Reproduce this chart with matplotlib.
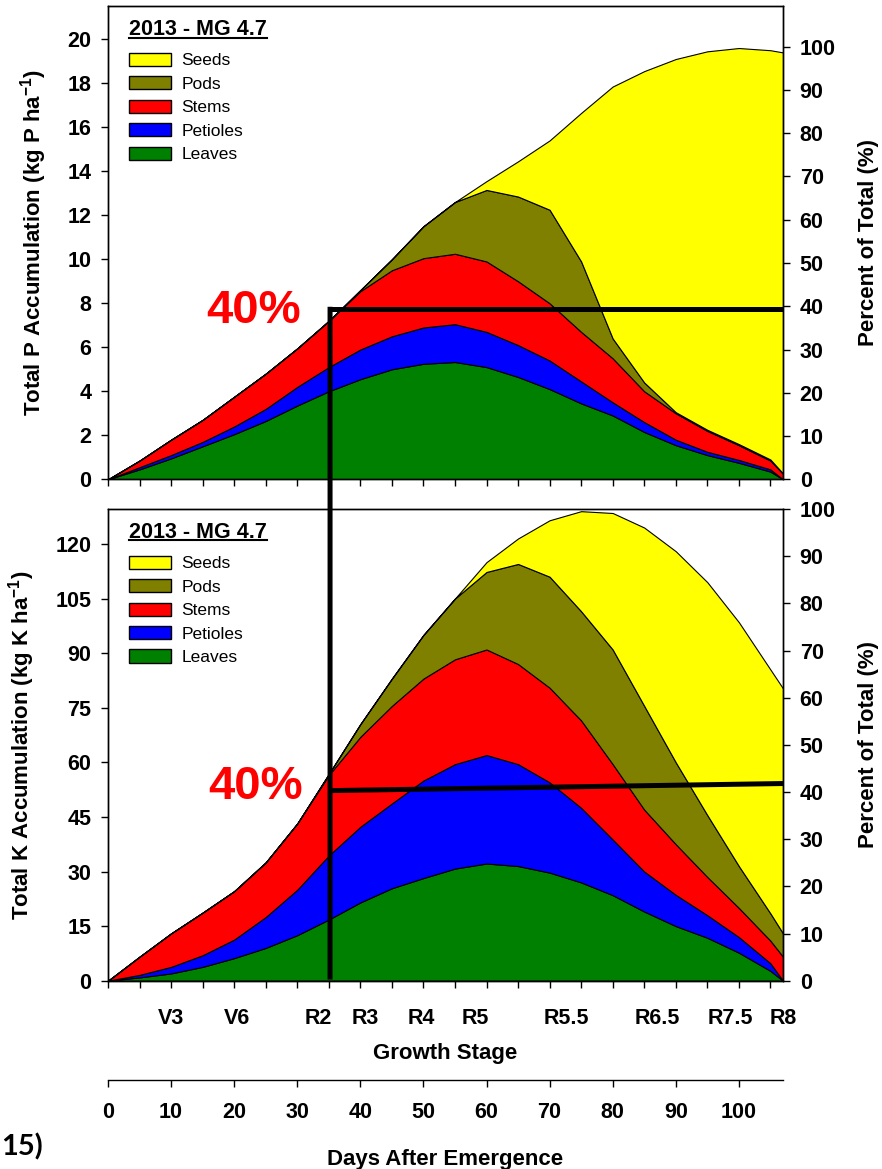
import matplotlib
matplotlib.use("Agg")
import matplotlib.pyplot as plt
from matplotlib.patches import Patch, ConnectionPatch
from matplotlib.ticker import MultipleLocator

plt.rcParams.update({
    "font.family": ["Liberation Sans", "DejaVu Sans"],
    "font.weight": "bold",
    "axes.labelweight": "bold",
    "mathtext.fontset": "custom",
    "mathtext.rm": "Liberation Sans",
    "mathtext.default": "regular",
    "axes.linewidth": 1.0,
})

# days after emergence at which the partition curves were sampled
days = [0, 5, 10, 15, 20, 25, 30, 35, 40, 45, 50, 55, 60, 65, 70, 75, 80, 85, 90, 95, 100, 105, 107]

# P accumulation by plant part (kg P/ha)
p_leaves = [0, 0.45, 0.95, 1.50, 2.05, 2.65, 3.35, 4.00, 4.55, 5.00, 5.25, 5.33, 5.10, 4.65, 4.10, 3.45, 2.90, 2.15, 1.55, 1.10, 0.75, 0.35, 0]
p_petioles = [0, 0.10, 0.15, 0.20, 0.35, 0.55, 0.85, 1.10, 1.35, 1.50, 1.65, 1.72, 1.60, 1.45, 1.30, 1.00, 0.60, 0.45, 0.25, 0.15, 0.13, 0.10, 0]
p_stems = [0, 0.30, 0.70, 1.00, 1.35, 1.60, 1.75, 2.10, 2.65, 3.00, 3.15, 3.20, 3.20, 2.90, 2.60, 2.25, 2.00, 1.40, 1.20, 0.95, 0.67, 0.40, 0.25]
p_pods = [0, 0, 0, 0, 0, 0, 0, 0, 0.05, 0.50, 1.45, 2.35, 3.25, 3.85, 4.25, 3.20, 0.90, 0.40, 0.05, 0.05, 0.05, 0.05, 0.02]
p_seeds = [0, 0, 0, 0, 0, 0, 0, 0, 0, 0, 0, 0, 0.40, 1.60, 3.15, 6.75, 11.45, 14.15, 16.05, 17.20, 18.00, 18.60, 19.13]

# K accumulation by plant part (kg K/ha)
k_leaves = [0, 0.9, 2.0, 3.8, 6.2, 9.0, 12.5, 16.8, 21.5, 25.4, 28.2, 30.8, 32.2, 31.5, 29.7, 27.0, 23.5, 19.0, 15.0, 11.8, 7.7, 2.7, 0]
k_petioles = [0, 0.7, 1.8, 3.2, 5.1, 8.5, 12.5, 17.6, 20.8, 23.3, 26.8, 28.7, 29.8, 28.0, 24.8, 20.5, 15.3, 11.0, 8.6, 6.2, 4.3, 2.1, 0]
k_stems = [0, 5.0, 9.2, 11.7, 13.3, 15.0, 18.2, 22.1, 24.7, 26.8, 28.0, 28.8, 29.0, 27.5, 26.0, 24.0, 20.7, 17.0, 13.9, 10.5, 8.0, 6.2, 6.6]
k_pods = [0, 0, 0, 0, 0, 0, 0, 0.3, 3.5, 7.5, 12.0, 16.7, 21.3, 27.5, 30.5, 30.0, 31.5, 28.5, 22.5, 17.0, 11.5, 7.5, 6.4]
k_seeds = [0, 0, 0, 0, 0, 0, 0, 0, 0, 0, 0, 0, 2.7, 7.0, 15.5, 27.5, 37.5, 49.0, 58.0, 64.0, 67.0, 67.0, 67.3]

parts = ["Leaves", "Petioles", "Stems", "Pods", "Seeds"]
part_colors = ["#008000", "#0000ff", "#ff0000", "#808000", "#ffff00"]

stage_days = [10, 20.4, 33.3, 40.7, 49.7, 58.3, 72.7, 87.1, 98.6, 107]
stage_labels = ["V3", "V6", "R2", "R3", "R4", "R5", "R5.5", "R6.5", "R7.5", "R8"]

season = "2013 - MG 4.7"

# 40 % of season total reached at ~R2
cutoff_day = 35.2
p_cutoff_pct = [39.3, 39.3]
k_cutoff_pct = [40.3, 41.8]
cutoff_label = "40%"

W, H = 882, 1169
fig = plt.figure(figsize=(W / 100, H / 100), dpi=100, facecolor="white")


def px_box(x0, y0, x1, y1):
    return [x0 / W, 1 - y1 / H, (x1 - x0) / W, (y1 - y0) / H]


def panel(ax, series, top, step, pct_top, ylabel):
    ax.stackplot(days, *series, colors=part_colors, edgecolor="black", linewidth=0.8)
    ax.set_xlim(0, 107)
    ax.set_ylim(0, top)
    ax.yaxis.set_major_locator(MultipleLocator(step))
    ax.tick_params(axis="y", direction="out", length=5, width=1, pad=7, labelsize=15.5)
    ax.set_ylabel(ylabel, fontsize=16, labelpad=13)

    axr = ax.twinx()
    axr.set_ylim(0, pct_top)
    axr.yaxis.set_major_locator(MultipleLocator(10))
    axr.tick_params(axis="y", direction="out", length=5, width=1, pad=7, labelsize=15.5)
    axr.set_ylabel("Percent of Total (%)", fontsize=16, labelpad=16)

    handles = [Patch(facecolor=c, edgecolor="black", linewidth=1.0, label=n)
               for n, c in zip(parts, part_colors)][::-1]
    ax.legend(handles=handles, loc="upper left", bbox_to_anchor=(0.0307, 0.901),
              frameon=False, prop={"weight": "normal", "size": 12.5},
              handlelength=2.42, handleheight=0.79, handletextpad=0.63,
              labelspacing=0.45, borderpad=0, borderaxespad=0)
    title = ax.text(0.0307, 0.9387, season, transform=ax.transAxes,
                    fontsize=15.5, va="baseline")
    return axr, title


ax_p = fig.add_axes(px_box(108, 6, 783, 479.3))
ax_k = fig.add_axes(px_box(108, 509, 783, 980.7))

axr_p, title_p = panel(ax_p, [p_leaves, p_petioles, p_stems, p_pods, p_seeds],
                       21.51, 2, 109.4, "Total P Accumulation (kg P ha$^{-1}$)")
axr_k, title_k = panel(ax_k, [k_leaves, k_petioles, k_stems, k_pods, k_seeds],
                       129.6, 15, 100, "Total K Accumulation (kg K ha$^{-1}$)")

# top panel: unlabeled 5-day ticks
ax_p.xaxis.set_major_locator(MultipleLocator(5))
ax_p.tick_params(axis="x", direction="out", length=5, width=1, labelbottom=False)

# bottom panel: growth stages as labels, 5-day ticks as minors
ax_k.set_xticks(stage_days, stage_labels)
ax_k.xaxis.set_minor_locator(MultipleLocator(5))
ax_k.xaxis.remove_overlapping_locs = False
ax_k.tick_params(axis="x", which="major", length=0, pad=19.4, labelsize=15.5)
ax_k.tick_params(axis="x", which="minor", direction="out", length=5, width=1)
ax_k.set_xlabel("Growth Stage", fontsize=16, labelpad=10.5)

# separate days axis below the growth stages
ax_d = ax_k.twiny()
ax_d.set_xlim(0, 107)
ax_d.xaxis.set_ticks_position("bottom")
ax_d.xaxis.set_label_position("bottom")
ax_d.spines["bottom"].set_position(("outward", 71.5))
for s in ("top", "left", "right"):
    ax_d.spines[s].set_visible(False)
ax_d.xaxis.set_major_locator(MultipleLocator(10))
ax_d.tick_params(axis="x", direction="out", length=5, width=1, pad=10.8, labelsize=15.5)
ax_d.set_xlabel("Days After Emergence", fontsize=16, labelpad=19)

# 40 % markers
axr_p.plot([cutoff_day, 107], p_cutoff_pct, color="black", lw=3.6, solid_capstyle="butt")
axr_k.plot([cutoff_day, 107], k_cutoff_pct, color="black", lw=3.6, solid_capstyle="butt")
con = ConnectionPatch(xyA=(cutoff_day, p_cutoff_pct[0]), coordsA=axr_p.transData,
                      xyB=(cutoff_day, 1.0), coordsB=ax_k.transData,
                      color="black", linewidth=3.6, capstyle="projecting")
fig.add_artist(con)
ax_p.text(23.1, 7.09, cutoff_label, color="#ff0000", fontsize=34, ha="center", va="baseline")
ax_k.text(23.4, 49.8, cutoff_label, color="#ff0000", fontsize=34, ha="center", va="baseline")

fig.text(0.001, 1 - 1147 / H, "15)", fontsize=21, family="Lato", weight="bold", va="center")

# underline the season titles
fig.canvas.draw()
r = fig.canvas.get_renderer()
for ax, t in ((ax_p, title_p), (ax_k, title_k)):
    bb = t.get_window_extent(r)
    inv = ax.transAxes.inverted()
    x0 = inv.transform((bb.x0, 0))[0]
    x1 = inv.transform((bb.x1, 0))[0]
    y = 0.9387 - 2.5 / (ax.bbox.height)
    ax.plot([x0, x1], [y, y], transform=ax.transAxes, color="black", lw=1.5, clip_on=False)

fig.savefig("out.png", dpi=100, facecolor="white")
